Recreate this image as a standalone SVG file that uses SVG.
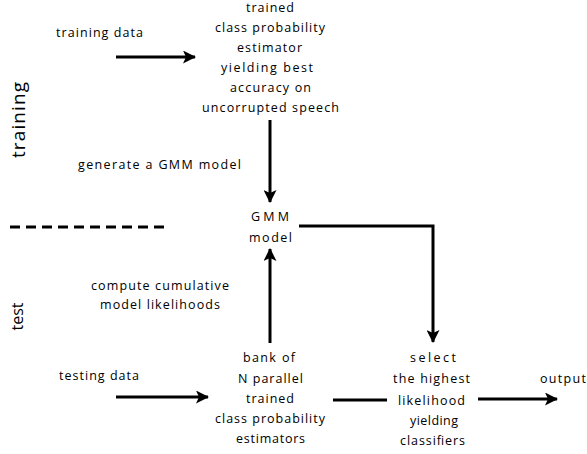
<svg xmlns="http://www.w3.org/2000/svg" width="587" height="454" viewBox="0 0 587 454">
<style>
text{font-family:"Open Sans","Liberation Sans",Arial,sans-serif;font-size:12.5px;fill:#000;text-anchor:middle}
.big{font-size:19px}
.ln{stroke:#000;stroke-width:3;fill:none}
</style>
<defs>
<marker id="ah" markerUnits="userSpaceOnUse" markerWidth="13" markerHeight="13" refX="12" refY="6.5" orient="auto">
<path d="M0,0 L13,6.5 L0,13 L3,6.5 Z" fill="#000"/>
</marker>
</defs>
<rect width="587" height="454" fill="#fff"/>
<g id="training-label"><text class="big" transform="translate(25,120) rotate(-90)" textLength="76" lengthAdjust="spacing">training</text></g>
<g id="test-label"><text class="big" style="font-size:17px" transform="translate(23,316.5) rotate(-90)" textLength="28" lengthAdjust="spacingAndGlyphs">test</text></g>
<g id="training-data"><text x="99.5" y="37" textLength="87" lengthAdjust="spacing">training data</text></g>
<g id="trained-estimator">
<text x="270" y="11.5" textLength="48" lengthAdjust="spacing">trained</text>
<text x="270" y="32" textLength="110" lengthAdjust="spacing">class probability</text>
<text x="269.5" y="52" textLength="65" lengthAdjust="spacing">estimator</text>
<text x="267" y="72" textLength="92" lengthAdjust="spacing">yielding best</text>
<text x="270.5" y="92" textLength="81" lengthAdjust="spacing">accuracy on</text>
<text x="270.5" y="112" textLength="137" lengthAdjust="spacing">uncorrupted speech</text>
</g>
<g id="generate-label"><text x="159.5" y="169" textLength="163" lengthAdjust="spacing">generate a GMM model</text></g>
<g id="gmm">
<text x="270" y="221" textLength="38" lengthAdjust="spacing">GMM</text>
<text x="270.5" y="242" textLength="43" lengthAdjust="spacing">model</text>
</g>
<g id="compute-label">
<text x="160" y="290" textLength="138" lengthAdjust="spacing">compute cumulative</text>
<text x="160" y="309" textLength="120" lengthAdjust="spacing">model likelihoods</text>
</g>
<g id="testing-data"><text x="99" y="380" textLength="80" lengthAdjust="spacing">testing data</text></g>
<g id="bank">
<text x="269" y="362" textLength="52" lengthAdjust="spacing">bank of</text>
<text x="270.5" y="383" textLength="65" lengthAdjust="spacing">N parallel</text>
<text x="270" y="403" textLength="48" lengthAdjust="spacing">trained</text>
<text x="270" y="423" textLength="110" lengthAdjust="spacing">class probability</text>
<text x="270.5" y="443" textLength="69" lengthAdjust="spacing">estimators</text>
</g>
<g id="select">
<text x="433" y="362" textLength="46" lengthAdjust="spacing">select</text>
<text x="431.5" y="383" textLength="77" lengthAdjust="spacing">the highest</text>
<text x="431.5" y="405" textLength="67" lengthAdjust="spacing">likelihood</text>
<text x="434" y="425" textLength="48" lengthAdjust="spacing">yielding</text>
<text x="432.5" y="445" textLength="65" lengthAdjust="spacing">classifiers</text>
</g>
<g id="output"><text x="563" y="383" textLength="46" lengthAdjust="spacing">output</text></g>
<g id="separator"><line x1="10" y1="227" x2="164" y2="227" stroke="#000" stroke-width="3" stroke-dasharray="10,6"/></g>
<g id="connectors">
<line class="ln" x1="116" y1="57" x2="195" y2="57" marker-end="url(#ah)"/>
<line class="ln" x1="270" y1="120" x2="270" y2="202" marker-end="url(#ah)"/>
<line class="ln" x1="270" y1="343" x2="270" y2="249" marker-end="url(#ah)"/>
<polyline class="ln" points="299,226 433,226 433,342" marker-end="url(#ah)"/>
<line class="ln" x1="116" y1="397" x2="208" y2="397" marker-end="url(#ah)"/>
<line class="ln" x1="333" y1="400" x2="387" y2="400"/>
<line class="ln" x1="478" y1="399" x2="557" y2="399" marker-end="url(#ah)"/>
</g>
</svg>
